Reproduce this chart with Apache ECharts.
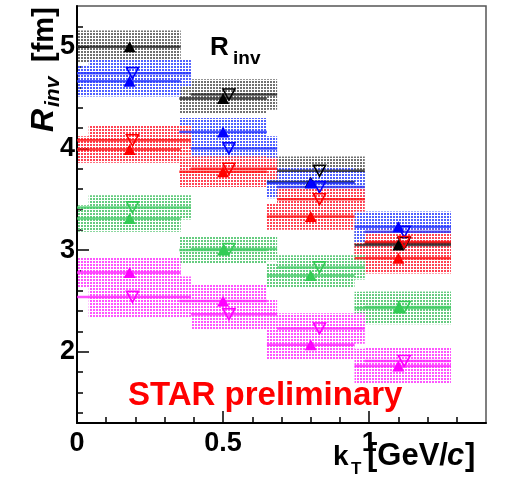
<!DOCTYPE html>
<html><head><meta charset="utf-8">
<script src="https://cdn.jsdelivr.net/npm/echarts@6/dist/echarts.min.js"></script>
<style>html,body{margin:0;padding:0;background:#fff}#c{width:505px;height:478px}</style>
</head><body><div id="c"></div>
<script>
// ---- data ----
const colorNames = ['black', 'blue', 'red', 'green', 'magenta'];
const lineColors = ['#222222', '#2233ff', '#ff1111', '#44cc66', '#ff22ff'];
const boxColors = ['#707070', '#5060ff', '#ff4455', '#66cc80', '#ff55ff'];

// filled (up) triangles
const xFilled = [0.18, 0.50, 0.80, 1.10];
const xFilledLow = [0.0, 0.35, 0.65, 0.95];
const xFilledHigh = [0.355, 0.65, 0.95, 1.28];
const rFilledBlack = [5.00, 4.49, 3.67, 3.05];
const rFilledBlue = [4.66, 4.16, 3.66, 3.23];
const rFilledRed = [3.99, 3.77, 3.33, 2.92];
const rFilledGreen = [3.31, 3.00, 2.75, 2.43];
const rFilledMagenta = [2.78, 2.50, 2.07, 1.86];
const sysFilledBlack = [0.16, 0.15, 0.15, 0.15];
const sysFilledBlue = [0.15, 0.14, 0.15, 0.15];
const sysFilledRed = [0.13, 0.15, 0.13, 0.15];
const sysFilledGreen = [0.13, 0.13, 0.12, 0.16];
const sysFilledMagenta = [0.15, 0.16, 0.15, 0.17];

// open (down) triangles
const xOpen = [0.19, 0.52, 0.83, 1.12];
const xOpenLow = [0.0, 0.39, 0.685, 0.985];
const xOpenHigh = [0.39, 0.685, 0.985, 1.28];
const xOpenBoxLow = [0.04, 0.39, 0.685, 0.985];
const rOpenBlack = [null, 4.53, 3.78, 3.07];
const rOpenBlue = [4.74, 4.00, 3.62, 3.18];
const rOpenRed = [4.08, 3.80, 3.50, 3.08];
const rOpenGreen = [3.42, 3.01, 2.83, 2.44];
const rOpenMagenta = [2.54, 2.37, 2.23, 1.91];
const sysOpenBlack = [0.15, 0.15, 0.14, 0.15];
const sysOpenBlue = [0.13, 0.12, 0.15, 0.15];
const sysOpenRed = [0.15, 0.11, 0.12, 0.12];
const sysOpenGreen = [0.12, 0.12, 0.12, 0.15];
const sysOpenMagenta = [0.2, 0.15, 0.15, 0.13];

const xMajorTicks = [0, 0.5, 1];
const xMinorTicks = [0.1, 0.2, 0.3, 0.4, 0.6, 0.7, 0.8, 0.9, 1.1, 1.2, 1.3];
const yMajorTicks = [2, 3, 4, 5];
const yMinorTicks = [1.4, 1.6, 1.8, 2.2, 2.4, 2.6, 2.8, 3.2, 3.4, 3.6, 3.8, 4.2, 4.4, 4.6, 4.8, 5.2];

const filledSets = [rFilledBlack, rFilledBlue, rFilledRed, rFilledGreen, rFilledMagenta];
const filledSys = [sysFilledBlack, sysFilledBlue, sysFilledRed, sysFilledGreen, sysFilledMagenta];
const openSets = [rOpenBlack, rOpenBlue, rOpenRed, rOpenGreen, rOpenMagenta];
const openSys = [sysOpenBlack, sysOpenBlue, sysOpenRed, sysOpenGreen, sysOpenMagenta];

// ---- rendering ----
function makePattern(color) {
  const c = document.createElement('canvas');
  c.width = 3; c.height = 3;
  const g = c.getContext('2d');
  g.fillStyle = color;
  g.fillRect(0, 0, 2, 2);
  return c;
}

function clip(rect, cs) {
  return echarts.graphic.clipRectByRect(rect, {x: cs.x, y: cs.y, width: cs.width, height: cs.height});
}

function boxSeries(lo, hi, ys, sys, color, z) {
  const pat = makePattern(color);
  const data = [];
  for (let i = 0; i < ys.length; i++) {
    if (ys[i] == null) continue;
    data.push([lo[i], hi[i], ys[i] - sys[i], ys[i] + sys[i]]);
  }
  return {
    type: 'custom', silent: true, z: z, animation: false,
    renderItem: function (params, api) {
      const p1 = api.coord([api.value(0), api.value(3)]);
      const p2 = api.coord([api.value(1), api.value(2)]);
      const r = clip({x: p1[0], y: p1[1], width: p2[0] - p1[0], height: p2[1] - p1[1]}, params.coordSys);
      if (!r) return null;
      return {type: 'rect', shape: r, style: {fill: {image: pat, repeat: 'repeat'}}};
    },
    encode: {x: [0, 1], y: [2, 3]},
    data: data
  };
}

function lineSeries(lo, hi, ys, color, z) {
  const data = [];
  for (let i = 0; i < ys.length; i++) {
    if (ys[i] == null) continue;
    data.push([lo[i], hi[i], ys[i]]);
  }
  return {
    type: 'custom', silent: true, z: z, animation: false,
    renderItem: function (params, api) {
      const p1 = api.coord([api.value(0), api.value(2)]);
      const p2 = api.coord([api.value(1), api.value(2)]);
      const cs = params.coordSys;
      return {type: 'line', shape: {x1: Math.max(p1[0], cs.x), y1: p1[1], x2: p2[0], y2: p2[1]},
        style: {stroke: color, lineWidth: 2.5, opacity: 0.8}};
    },
    encode: {x: [0, 1], y: 2},
    data: data
  };
}

function markerSeries(xs, ys, color, open, z) {
  const data = [];
  for (let i = 0; i < ys.length; i++) {
    if (ys[i] == null) continue;
    data.push([xs[i], ys[i]]);
  }
  return {
    type: 'scatter', silent: true, z: z, animation: false,
    symbol: 'triangle', symbolSize: [12, 11],
    symbolRotate: open ? 180 : 0,
    itemStyle: open ? {color: 'rgba(255,255,255,0)', borderColor: color, borderWidth: 1.6, opacity: 1}
                    : {color: color, opacity: 1},
    data: data
  };
}

const series = [];
for (let k = 0; k < 5; k++) {
  series.push(boxSeries(xFilledLow, xFilledHigh, filledSets[k], filledSys[k], boxColors[k], 1));
  series.push(boxSeries(xOpenBoxLow, xOpenHigh, openSets[k], openSys[k], boxColors[k], 1));
}
for (let k = 0; k < 5; k++) {
  series.push(lineSeries(xFilledLow, xFilledHigh, filledSets[k], lineColors[k], 2));
  series.push(lineSeries(xOpenLow, xOpenHigh, openSets[k], lineColors[k], 2));
}
const markerColors = ['#000000', '#0000ff', '#ff0000', '#33cc55', '#ff00ff'];
for (let k = 0; k < 5; k++) {
  series.push(markerSeries(xFilled, filledSets[k], markerColors[k], false, 3));
  series.push(markerSeries(xOpen, openSets[k], markerColors[k], true, 3));
}

const FONT = 'Liberation Sans';
function txt(x, y, text, font, fill) {
  return {type: 'text', x: x, y: y, style: {text: text, font: font, fill: fill || '#000', verticalAlign: 'top'}};
}
const chart = echarts.init(document.getElementById('c'), null, {renderer: 'canvas'});
chart.setOption({
  animation: false,
  backgroundColor: '#fff',
  grid: {left: 77, right: 19, top: 6, bottom: 55, show: true, borderColor: '#555', borderWidth: 1.5, backgroundColor: 'transparent'},
  xAxis: [{
    type: 'value', min: 0, max: 1.4, position: 'bottom',
    axisLine: {show: true, onZero: false, lineStyle: {color: '#000', width: 2}},
    axisTick: {show: true, inside: true, length: 12, customValues: xMajorTicks, lineStyle: {color: '#000', width: 1.5}},
    axisLabel: {show: true, customValues: xMajorTicks, margin: 7, fontSize: 27, fontWeight: 'bold', fontFamily: FONT, color: '#000',
      formatter: function (v) { return String(Math.round(v * 10) / 10); }},
    splitLine: {show: false}
  }, {
    type: 'value', min: 0, max: 1.4, position: 'bottom',
    axisLine: {show: false},
    axisTick: {show: true, inside: true, length: 6, customValues: xMinorTicks, lineStyle: {color: '#000', width: 1.5}},
    axisLabel: {show: false},
    splitLine: {show: false}
  }],
  yAxis: [{
    type: 'value', min: 1.3, max: 5.4, position: 'left',
    axisLine: {show: true, onZero: false, lineStyle: {color: '#000', width: 2}},
    axisTick: {show: true, inside: true, length: 12, customValues: yMajorTicks, lineStyle: {color: '#000', width: 1.5}},
    axisLabel: {show: true, customValues: yMajorTicks, margin: 2, fontSize: 27, fontWeight: 'bold', fontFamily: FONT, color: '#000'},
    splitLine: {show: false}
  }, {
    type: 'value', min: 1.3, max: 5.4, position: 'left',
    axisLine: {show: false},
    axisTick: {show: true, inside: true, length: 6, customValues: yMinorTicks, lineStyle: {color: '#000', width: 1.5}},
    axisLabel: {show: false},
    splitLine: {show: false}
  }],
  series: series,
  graphic: [
    txt(210, 35, 'R', 'bold 26px "Liberation Sans"'),
    txt(233, 49, 'inv', 'bold 19px "Liberation Sans"'),
    txt(128, 379, 'STAR preliminary', 'bold 33px "Liberation Sans"', '#ff0000'),
    {type: 'group', x: 55, y: 132, rotation: Math.PI / 2, children: [
      txt(0, -27, 'R', 'italic bold 32px "Liberation Sans"'),
      txt(25, -12, 'inv', 'italic bold 21px "Liberation Sans"'),
      txt(62, -25, ' [fm]', 'bold 29px "Liberation Sans"')
    ]},
    txt(333, 443, 'k', 'bold 28px "Liberation Sans"'),
    txt(351, 461, 'T', 'bold 17px "Liberation Sans"'),
    txt(367, 441, '[GeV/', 'bold 31px "Liberation Sans"'),
    txt(447, 441, 'c', 'italic bold 31px "Liberation Sans"'),
    txt(465, 441, ']', 'bold 31px "Liberation Sans"')
  ]
});
</script>
</body></html>
